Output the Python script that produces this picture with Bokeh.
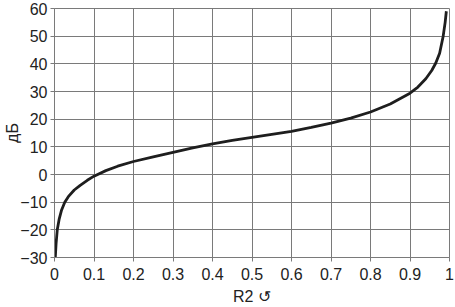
from bokeh.plotting import figure
from bokeh.models import FixedTicker, CustomJSTickFormatter, Range1d
from bokeh.embed import file_html
from bokeh.resources import INLINE

# data
r2 = [0.002, 0.004, 0.007, 0.012, 0.018, 0.026, 0.035, 0.05, 0.065, 0.083, 0.1,
      0.13, 0.16, 0.2, 0.25, 0.3, 0.35, 0.4, 0.45, 0.5, 0.55, 0.6, 0.65, 0.7,
      0.75, 0.8, 0.85, 0.9, 0.92, 0.94, 0.955, 0.965, 0.975, 0.984, 0.989, 0.992]
db = [-30, -25, -20, -16, -12.8, -10, -8, -5.6, -3.9, -2.1, -0.6,
      1.4, 3, 4.7, 6.4, 8, 9.6, 11.1, 12.3, 13.4, 14.5, 15.6, 17, 18.6,
      20.4, 22.6, 25.5, 29.4, 31.6, 34.6, 37.6, 40.2, 43.8, 50, 55, 59]
x_ticks = [0, 0.1, 0.2, 0.3, 0.4, 0.5, 0.6, 0.7, 0.8, 0.9, 1]
y_ticks = [-30, -20, -10, 0, 10, 20, 30, 40, 50, 60]
x_label = "R2 \u21ba"
y_label = "дБ"

FONT = "Liberation Sans"
GRID = "#7a7a7a"
TXT = "#222222"

p = figure(width=455, height=307, output_backend="svg", toolbar_location=None,
           x_range=Range1d(0, 1), y_range=Range1d(-30, 60),
           min_border_left=54, min_border_right=6, min_border_top=8, min_border_bottom=50)
p.background_fill_color = "white"
p.border_fill_color = "white"
p.outline_line_color = GRID
p.outline_line_width = 1

p.line(r2, db, line_color="#1e1e1e", line_width=2.8)

p.xaxis.ticker = FixedTicker(ticks=x_ticks)
p.yaxis.ticker = FixedTicker(ticks=y_ticks)
p.xaxis.formatter = CustomJSTickFormatter(code="return tick.toFixed(1).replace(/\\.0$/, '');")
p.yaxis.formatter = CustomJSTickFormatter(code="return (tick < 0 ? '\u2212' : '') + Math.abs(tick).toFixed(0);")

for ax in (p.xaxis, p.yaxis):
    ax.axis_line_color = GRID
    ax.major_tick_line_color = GRID
    ax.major_tick_out = 4
    ax.major_tick_in = 0
    ax.minor_tick_line_color = None
    ax.major_label_text_font = FONT
    ax.major_label_text_font_size = "16px"
    ax.major_label_text_color = TXT
    ax.axis_label_text_font = FONT
    ax.axis_label_text_font_size = "16px"
    ax.axis_label_text_font_style = "normal"
    ax.axis_label_text_color = TXT

p.xaxis.axis_label = x_label
p.yaxis.axis_label = y_label
p.xaxis.major_label_standoff = 6
p.xaxis.axis_label_standoff = 5
p.yaxis.major_label_standoff = 3
p.yaxis.axis_label_standoff = -4

p.xgrid.ticker = FixedTicker(ticks=x_ticks)
p.ygrid.ticker = FixedTicker(ticks=y_ticks)
for g in (p.xgrid, p.ygrid):
    g.grid_line_color = GRID
    g.grid_line_width = 1
    g.grid_line_alpha = 1

open("out.html", "w").write(file_html(p, INLINE))
